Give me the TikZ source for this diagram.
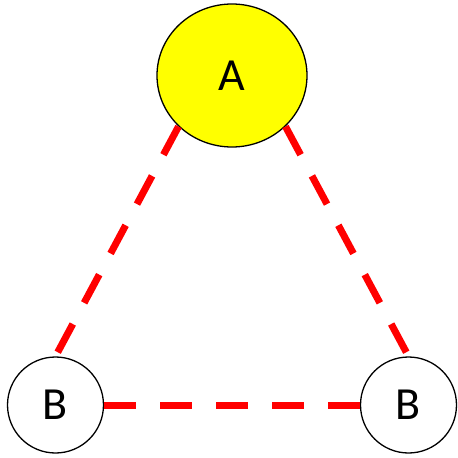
\documentclass[tikz,border=0pt]{standalone}
\usepackage{fontspec}
\setmainfont{Carlito}
\usetikzlibrary{shapes.geometric}
\definecolor{ayellow}{RGB}{255,255,0}
\definecolor{lred}{RGB}{255,0,0}

\begin{document}
\begin{tikzpicture}[
  x=1pt, y=-1pt,
  font=\fontsize{46}{46}\selectfont,
  ball/.style={draw, line width=1.3pt, inner sep=0pt},
  top/.style={ball, ellipse, fill=ayellow, minimum width=150pt, minimum height=143pt},
  low/.style={ball, circle, fill=white, minimum size=96pt},
  link/.style={draw=lred, line width=7pt, dash pattern=on 32pt off 24pt},
]
\useasboundingbox (0,0) rectangle (458,458);
% ---- nodes ----
\node[top] (a) at (232,75.5) {A};
\node[low] (bl) at (55.5,405) {B};
\node[low] (br) at (408.5,405) {B};

% ---- dashed links ----
\draw[link] (a.south west) -- (bl.north);
\draw[link] (a.south east) -- (br.north);
\draw[link] (bl.east) -- (br.west);
\end{tikzpicture}
\end{document}
